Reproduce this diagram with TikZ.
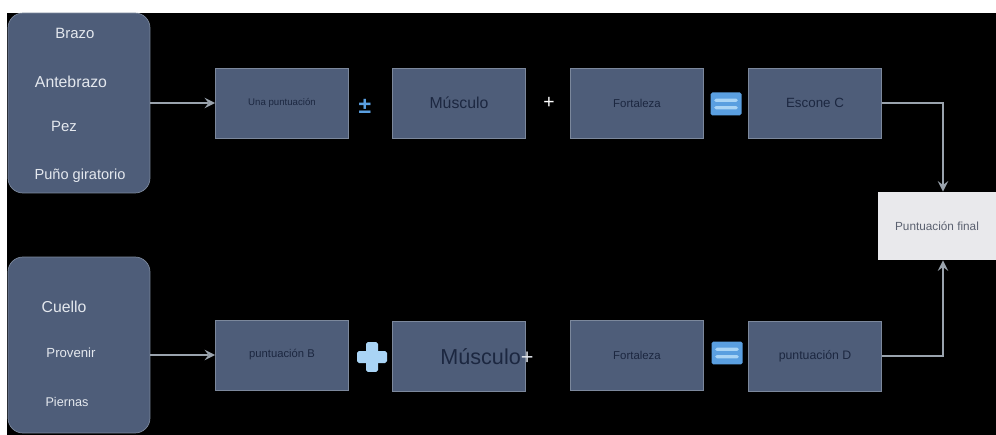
\documentclass[tikz,border=0pt]{standalone}
\usepackage{fontspec}
\setmainfont{Liberation Sans}
\usetikzlibrary{calc}
\definecolor{slate}{HTML}{4E5D79}
\definecolor{slateedge}{HTML}{7C889C}
\definecolor{navy}{HTML}{1C2740}
\definecolor{limbwhite}{HTML}{E4E8EE}
\definecolor{linkgray}{HTML}{9AA3AD}
\definecolor{paper}{HTML}{E9E9EC}
\definecolor{inkgray}{HTML}{5B6170}
\definecolor{opblue}{HTML}{5A9FE0}
\definecolor{oplight}{HTML}{A9D4F5}
\tikzset{
	limbstyle/.style={rectangle,rounded corners=8.5pt,draw=slateedge,fill=slate,minimum width=2.84cm},
	limbtext/.style={text=limbwhite},
	scorestyle/.style={rectangle,draw=slateedge,fill=slate,minimum width=2.66cm,minimum height=1.4cm,text=navy},
	finalstyle/.style={rectangle,fill=paper,minimum width=2.36cm,minimum height=1.36cm,text=inkgray},
	linkstyle/.style={draw=linkgray,line width=1.6pt},
	eqstyle/.style={rectangle,fill=opblue,rounded corners=1pt,minimum width=0.62cm,minimum height=0.46cm,
		path picture={
			\fill[oplight] ([xshift=2pt,yshift=1.2pt]path picture bounding box.west) rectangle ([xshift=-2pt,yshift=3pt]path picture bounding box.east);
			\fill[oplight] ([xshift=2pt,yshift=-1.2pt]path picture bounding box.west) rectangle ([xshift=-2pt,yshift=-3pt]path picture bounding box.east);
		}},
	crossstyle/.style={rectangle,minimum size=0.6cm,
		path picture={
			\fill[oplight,rounded corners=1pt] ([yshift=-0.12cm]path picture bounding box.west) rectangle ([yshift=0.12cm]path picture bounding box.east);
			\fill[oplight,rounded corners=1pt] ([xshift=-0.12cm]path picture bounding box.south) rectangle ([xshift=0.12cm]path picture bounding box.north);
		}}
}
\begin{document}
\begin{tikzpicture}[x=0.02cm,y=-0.02cm]
	\fill[white] (0,0) rectangle (996,435);
	\fill[black] (7,13) rectangle (996,435);
	\useasboundingbox (0,0) rectangle (996,435);
	\node[limbstyle,minimum height=3.6cm] (arm) at (79,103) {};
	\node[limbtext,font=\fontsize{8.5}{10}\selectfont] (brazo) at (75,33) {Brazo};
	\node[limbtext,font=\fontsize{9}{10}\selectfont] (antebrazo) at (71,82) {Antebrazo};
	\node[limbtext,font=\fontsize{8.5}{10}\selectfont] (pez) at (64,126) {Pez};
	\node[limbtext,font=\fontsize{8.3}{10}\selectfont] (puno) at (80,176) {Puño giratorio};
	\node[limbstyle,minimum height=3.52cm] (neck) at (79,345) {};
	\node[limbtext,font=\fontsize{9}{10}\selectfont] (cuello) at (64,307) {Cuello};
	\node[limbtext,font=\fontsize{7.5}{9}\selectfont] (provenir) at (71,353) {Provenir};
	\node[limbtext,font=\fontsize{7.2}{9}\selectfont] (piernas) at (67,402) {Piernas};
	\node[scorestyle,font=\fontsize{5.5}{6}\selectfont] (puntA) at (282,103) {Una puntuación};
	\node[scorestyle,font=\fontsize{9}{10}\selectfont] (muscA) at (459,103) {Músculo};
	\node[scorestyle,font=\fontsize{6.5}{7}\selectfont] (fortA) at (637,103) {Fortaleza};
	\node[scorestyle,font=\fontsize{7.6}{8}\selectfont] (escC) at (815,103) {Escone C};
	\node[scorestyle,font=\fontsize{6.4}{7}\selectfont] (puntB) at (282,355) {puntuación B};
	\node[scorestyle] (muscB) at (459,356) {};
	\node[text=navy,font=\fontsize{12.3}{13}\selectfont,anchor=west,inner sep=0pt] (muscBtext) at (440,357) {Músculo\textcolor{limbwhite}{+}};
	\node[scorestyle,font=\fontsize{6.5}{7}\selectfont] (fortB) at (637,355) {Fortaleza};
	\node[scorestyle,font=\fontsize{7}{8}\selectfont] (puntD) at (815,356) {puntuación D};
	\node[finalstyle,font=\fontsize{6.7}{8}\selectfont] (final) at (937,226) {Puntuación final};
	\node[text=opblue,font=\bfseries\fontsize{13}{14}\selectfont] (pmA) at (365,106) {±};
	\node[text=white,font=\fontsize{11}{12}\selectfont] (plusA) at (549,103) {+};
	\node[eqstyle] (eqA) at (726,104) {};
	\node[crossstyle] (plusB) at (372,357) {};
	\node[eqstyle] (eqB) at (727,353) {};
	\draw[linkstyle,-stealth] (arm.east) -- (puntA.west);
	\draw[linkstyle,-stealth] (neck.east |- puntB.west) -- (puntB.west);
	\draw[linkstyle,-stealth] (escC.east) -| ([xshift=0.12cm]final.north);
	\draw[linkstyle,-stealth] (puntD.east) -| ([xshift=0.12cm]final.south);
\end{tikzpicture}
\end{document}
